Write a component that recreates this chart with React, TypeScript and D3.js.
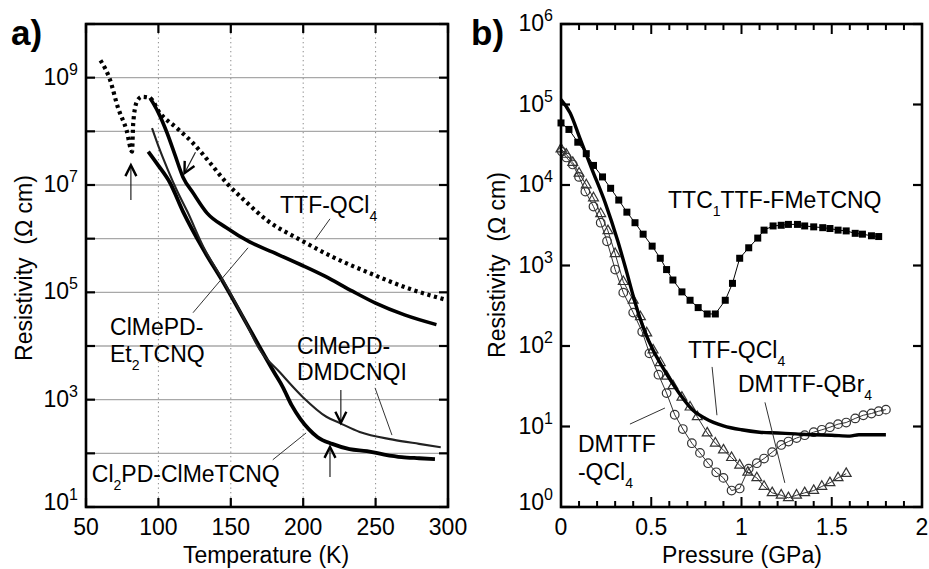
import React from 'react';
import * as d3 from 'd3';

// ---------- Panel a: resistivity vs temperature ----------
const ttfQCl4_T = [60, 66.6, 72, 78, 81.8, 82.6, 85, 88.5, 94, 101, 112.7, 124, 135.6, 147, 160, 175, 198, 220, 244, 276, 299];
const ttfQCl4_R = [2.1e9, 9.1e8, 2.8e8, 1.05e8, 4.2e7, 1.4e8, 3.5e8, 4.4e8, 4.2e8, 2.2e8, 1.15e8, 6.0e7, 2.6e7, 1.1e7, 5.0e6, 2.2e6, 9.5e5, 4.6e5, 2.4e5, 1.1e5, 7.2e4];

const et2_T = [94.2, 99.7, 106, 111.5, 117, 124, 133.6, 147, 163, 179, 198, 215, 234, 250, 270, 292];
const et2_R = [4.2e8, 2.3e8, 9.3e7, 3.6e7, 1.4e7, 7.1e6, 3.0e6, 1.6e6, 8.7e5, 5.6e5, 3.3e5, 2.0e5, 1.05e5, 6.3e4, 3.8e4, 2.5e4];

const dmdcnqi_T = [95.6, 101, 106.6, 112.8, 120, 131, 145, 158, 170, 184, 200, 216, 225, 239, 262, 280, 295];
const dmdcnqi_R = [1.15e8, 4.5e7, 1.9e7, 7.9e6, 3.2e6, 7.1e5, 1.6e5, 3.7e4, 8.5e3, 3.2e3, 1.1e3, 480, 370, 250, 180, 150, 130];

const cl2pd_T = [93, 100, 108, 117, 131, 145, 158, 170, 180, 186, 192, 198, 204, 210, 220, 232, 244, 256, 268, 280, 291];
const cl2pd_R = [4.2e7, 2.3e7, 1.1e7, 3.2e6, 6.3e5, 1.5e5, 3.6e4, 9.5e3, 3.2e3, 1.7e3, 790, 440, 280, 200, 150, 120, 110, 95, 85, 81, 78];

const tempTicks = [50, 100, 150, 200, 250, 300];
const tempGrid = [100, 150, 200, 250];
const resAExps = [1, 2, 3, 4, 5, 6, 7, 8, 9, 10];
const resALabelExps = [1, 3, 5, 7, 9];

// ---------- Panel b: resistivity vs pressure ----------
const ttc1_P = [0, 0.044, 0.093, 0.14, 0.18, 0.23, 0.275, 0.32, 0.365, 0.41, 0.455, 0.505, 0.55, 0.585, 0.62, 0.67, 0.715, 0.76, 0.81, 0.855, 0.91, 0.95, 0.99, 1.04, 1.09, 1.125, 1.175, 1.22, 1.26, 1.31, 1.35, 1.4, 1.45, 1.49, 1.535, 1.58, 1.63, 1.67, 1.72, 1.76];
const ttc1_R = [5.9e4, 4.9e4, 3.4e4, 2.45e4, 1.75e4, 1.26e4, 9100, 6500, 4600, 3400, 2450, 1740, 1230, 890, 660, 470, 370, 300, 250, 250, 370, 600, 1230, 1660, 2190, 2750, 3100, 3160, 3240, 3240, 3100, 3020, 2950, 2880, 2750, 2690, 2510, 2450, 2340, 2290];

const ttfB_P = [0, 0.05, 0.105, 0.17, 0.245, 0.315, 0.36, 0.41, 0.46, 0.51, 0.56, 0.6, 0.66, 0.73, 0.8, 0.9, 1.0, 1.1, 1.2, 1.3, 1.4, 1.5, 1.6, 1.65, 1.7, 1.8];
const ttfB_R = [1.15e5, 7.9e4, 3.8e4, 1.6e4, 6000, 2000, 890, 350, 160, 89, 56, 40, 25, 16, 12.6, 10.2, 9.1, 8.5, 8.3, 8.1, 7.9, 7.8, 7.6, 7.9, 7.9, 7.9];

const dmCl_P = [0.005, 0.03, 0.065, 0.1, 0.135, 0.18, 0.22, 0.255, 0.3, 0.345, 0.4, 0.45, 0.49, 0.54, 0.585, 0.63, 0.675, 0.725, 0.77, 0.815, 0.86, 0.9, 0.945, 0.99, 1.04, 1.085, 1.125, 1.17, 1.22, 1.26, 1.305, 1.35, 1.4, 1.445, 1.49, 1.535, 1.58, 1.63, 1.675, 1.72, 1.76, 1.8];
const dmCl_R = [2.6e4, 2.2e4, 1.8e4, 1.26e4, 8300, 5400, 3400, 2000, 890, 460, 260, 150, 81, 44, 26, 14, 9.3, 6.2, 4.7, 3.5, 2.7, 2.3, 1.6, 1.7, 3.0, 3.5, 4.0, 4.8, 5.9, 6.5, 7.2, 7.8, 8.5, 9.1, 9.8, 10.7, 11.2, 12.6, 13.8, 14.5, 15.5, 16.2];

const dmBr_P = [0, 0.03, 0.065, 0.1, 0.14, 0.18, 0.22, 0.26, 0.3, 0.345, 0.4, 0.44, 0.475, 0.51, 0.55, 0.585, 0.62, 0.67, 0.715, 0.755, 0.81, 0.855, 0.9, 0.945, 0.99, 1.035, 1.085, 1.125, 1.17, 1.22, 1.26, 1.305, 1.35, 1.4, 1.445, 1.49, 1.535, 1.58];
const dmBr_R = [2.8e4, 2.4e4, 1.9e4, 1.4e4, 1.0e4, 6900, 4400, 2700, 1400, 630, 370, 230, 145, 89, 62, 42, 32, 23, 17.4, 13.2, 8.3, 6.2, 5.1, 4.1, 3.3, 2.7, 2.3, 1.8, 1.5, 1.4, 1.3, 1.4, 1.5, 1.6, 1.8, 2.0, 2.3, 2.6];

const pressTicks = [0, 0.5, 1, 1.5, 2];
const pressTickLabels = ['0', '0.5', '1', '1.5', '2'];
const resBExps = [0, 1, 2, 3, 4, 5, 6];

const FONT = "'Liberation Sans', Arial, Helvetica, sans-serif";
const FS = 23;

type Pt = [number, number];
const zip = (a: number[], b: number[]): Pt[] => a.map((v, i) => [v, b[i]]);
const p10 = (e: number) => Math.pow(10, e);

function Arrow({ x1, y1, x2, y2 }: { x1: number; y1: number; x2: number; y2: number }) {
  const dx = x2 - x1, dy = y2 - y1;
  const L = Math.hypot(dx, dy);
  const ux = dx / L, uy = dy / L;
  const px = -uy, py = ux;
  const hl = 11, hw = 5.5;
  const bx = x2 - ux * hl, by = y2 - uy * hl;
  return (
    <g>
      <line x1={x1} y1={y1} x2={x2} y2={y2} stroke="#222" strokeWidth={1.2} />
      <polyline
        points={`${bx + px * hw},${by + py * hw} ${x2},${y2} ${bx - px * hw},${by - py * hw}`}
        fill="none" stroke="#000" strokeWidth={2.4} strokeLinejoin="miter" />
    </g>
  );
}

export default function App() {
  // Panel a scales
  const xa = d3.scaleLinear().domain([50, 300]).range([86, 448]);
  const ya = d3.scaleLog().domain([1e1, 1e10]).range([507, 24]);
  // Panel b scales
  const xb = d3.scaleLinear().domain([0, 2]).range([561, 922]);
  const yb = d3.scaleLog().domain([1, 1e6]).range([507, 24]);

  const lineA = d3.line<Pt>().x(d => xa(d[0])).y(d => ya(d[1])).curve(d3.curveMonotoneX);
  const lineB = d3.line<Pt>().x(d => xb(d[0])).y(d => yb(d[1])).curve(d3.curveMonotoneX);
  const lineBlin = d3.line<Pt>().x(d => xb(d[0])).y(d => yb(d[1]));

  const tri = d3.symbol().type(d3.symbolTriangle).size(42)()!;

  const [a0, a1] = xa.range();
  const [ab, at] = ya.range();
  const [b0, b1] = xb.range();
  const [bb, bt] = yb.range();

  const minorP = d3.range(0, 21).map(i => i / 10);

  const sub = (s: string, fs = 14) => (
    <tspan fontSize={fs} dy={8}>{s}</tspan>
  );

  return (
    <svg width={929} height={569} style={{ position: 'absolute', left: 0, top: 0, background: '#fff' }}
      fontFamily={FONT} fontSize={FS}>
      <rect x={0} y={0} width={929} height={569} fill="#fff" />

      {/* ================= Panel a ================= */}
      <text x={11} y={45} fontSize={35} fontWeight="bold">a)</text>

      {/* grid */}
      {resAExps.filter(e => e > 1 && e < 10).map(e => (
        <line key={'ga' + e} x1={a0} x2={a1} y1={ya(p10(e))} y2={ya(p10(e))} stroke="#a8a8a8" strokeWidth={1.3} />
      ))}
      {tempGrid.map(t => (
        <line key={'gv' + t} x1={xa(t)} x2={xa(t)} y1={at} y2={ab} stroke="#8a8a8a" strokeWidth={1} strokeDasharray="1.3 3.2" />
      ))}

      {/* ticks */}
      {resAExps.map(e => (
        <g key={'ta' + e}>
          <line x1={a0} x2={a0 + 9} y1={ya(p10(e))} y2={ya(p10(e))} stroke="#000" strokeWidth={2.2} />
          <line x1={a1} x2={a1 - 9} y1={ya(p10(e))} y2={ya(p10(e))} stroke="#000" strokeWidth={2.2} />
        </g>
      ))}
      {tempTicks.map(t => (
        <g key={'tx' + t}>
          <line x1={xa(t)} x2={xa(t)} y1={ab} y2={ab - 9} stroke="#000" strokeWidth={2.2} />
          <line x1={xa(t)} x2={xa(t)} y1={at} y2={at + 9} stroke="#000" strokeWidth={2.2} />
          <text x={xa(t)} y={535} textAnchor="middle">{t}</text>
        </g>
      ))}
      {resALabelExps.map(e => (
        <text key={'la' + e} x={a0 - 8} y={ya(p10(e)) + (e === 1 ? 3 : 7)} textAnchor="end">
          10<tspan fontSize={16} dy={-10}>{e}</tspan>
        </text>
      ))}

      {/* curves */}
      <path d={lineA(zip(ttfQCl4_T, ttfQCl4_R))!} fill="none" stroke="#000" strokeWidth={4.2} strokeDasharray="3.2 3.6" />
      <path d={lineA(zip(et2_T, et2_R))!} fill="none" stroke="#000" strokeWidth={3.6} />
      <path d={lineA(zip(cl2pd_T, cl2pd_R))!} fill="none" stroke="#000" strokeWidth={3.8} />
      <path d={lineA(zip(dmdcnqi_T, dmdcnqi_R))!} fill="none" stroke="#222" strokeWidth={2.1} />

      {/* arrows */}
      <Arrow x1={xa(81)} y1={ya(p10(6.72))} x2={xa(81)} y2={ya(p10(7.37))} />
      <Arrow x1={xa(125.6)} y1={ya(p10(7.61))} x2={xa(118)} y2={ya(p10(7.22))} />
      <Arrow x1={xa(226)} y1={ya(p10(3.18))} x2={xa(226)} y2={ya(p10(2.57))} />
      <Arrow x1={xa(218.5)} y1={ya(p10(1.56))} x2={xa(218.5)} y2={ya(p10(2.12))} />

      {/* leaders */}
      <g stroke="#333" strokeWidth={1}>
        <line x1={xa(218.5)} y1={ya(p10(6.37))} x2={xa(208.2)} y2={ya(p10(5.98))} />
        <line x1={xa(123.9)} y1={ya(p10(4.62))} x2={xa(161.9)} y2={ya(p10(5.83))} />
        <line x1={xa(249.6)} y1={ya(p10(3.22))} x2={xa(261.3)} y2={ya(p10(2.34))} />
        <line x1={xa(179)} y1={ya(p10(1.88))} x2={xa(202)} y2={ya(p10(2.38))} />
      </g>

      {/* labels */}
      <text x={xa(184)} y={ya(p10(6.48))}>TTF-QCl{sub('4')}</text>
      <text x={xa(66.6)} y={ya(p10(4.21))}>ClMePD-</text>
      <text x={xa(66.6)} y={ya(p10(3.70))}>Et{sub('2')}<tspan dy={-8}>TCNQ</tspan></text>
      <text x={xa(195.7)} y={ya(p10(3.85))}>ClMePD-</text>
      <text x={xa(195.7)} y={ya(p10(3.37))}>DMDCNQI</text>
      <text x={xa(54)} y={ya(p10(1.47))}>Cl{sub('2')}<tspan dy={-8}>PD-ClMeTCNQ</tspan></text>

      {/* frame */}
      <rect x={a0} y={at} width={a1 - a0} height={ab - at} fill="none" stroke="#000" strokeWidth={2.6} />

      <text x={266} y={563} textAnchor="middle">Temperature (K)</text>
      <text transform={`translate(32,268) rotate(-90)`} textAnchor="middle" style={{ whiteSpace: 'pre' }}>Resistivity  (Ω cm)</text>

      {/* ================= Panel b ================= */}
      <text x={471} y={45} fontSize={35} fontWeight="bold">b)</text>

      {resBExps.map(e => (
        <g key={'tb' + e}>
          <line x1={b0} x2={b0 + 9} y1={yb(p10(e))} y2={yb(p10(e))} stroke="#000" strokeWidth={2.2} />
          <line x1={b1} x2={b1 - 9} y1={yb(p10(e))} y2={yb(p10(e))} stroke="#000" strokeWidth={2.2} />
          <text x={b0 - 8} y={yb(p10(e)) + (e === 0 ? 3 : 7)} textAnchor="end">
            10<tspan fontSize={16} dy={-10}>{e}</tspan>
          </text>
        </g>
      ))}
      {minorP.map((p, i) => {
        const len = i % 5 === 0 ? 10 : 6;
        return (
          <g key={'mp' + i}>
            <line x1={xb(p)} x2={xb(p)} y1={bb} y2={bb - len} stroke="#000" strokeWidth={2} />
            <line x1={xb(p)} x2={xb(p)} y1={bt} y2={bt + len} stroke="#000" strokeWidth={2} />
          </g>
        );
      })}
      {pressTicks.map((p, i) => (
        <text key={'pl' + i} x={xb(p)} y={535} textAnchor="middle">{pressTickLabels[i]}</text>
      ))}

      {/* TTC1TTF-FMeTCNQ squares */}
      <path d={lineBlin(zip(ttc1_P, ttc1_R))!} fill="none" stroke="#000" strokeWidth={1} />
      {zip(ttc1_P, ttc1_R).map((d, i) => (
        <rect key={'sq' + i} x={xb(d[0]) - 3.5} y={yb(d[1]) - 3.5} width={7} height={7} fill="#000" />
      ))}

      {/* DMTTF-QCl4 circles */}
      <path d={lineBlin(zip(dmCl_P, dmCl_R))!} fill="none" stroke="#333" strokeWidth={1} />
      {zip(dmCl_P, dmCl_R).map((d, i) => (
        <circle key={'c' + i} cx={xb(d[0])} cy={yb(d[1])} r={4.3} fill="none" stroke="#333" strokeWidth={1.2} />
      ))}

      {/* DMTTF-QBr4 triangles */}
      <path d={lineBlin(zip(dmBr_P, dmBr_R))!} fill="none" stroke="#333" strokeWidth={1} />
      {zip(dmBr_P, dmBr_R).map((d, i) => (
        <path key={'t' + i} d={tri} transform={`translate(${xb(d[0])},${yb(d[1])})`} fill="none" stroke="#333" strokeWidth={1.2} />
      ))}

      {/* TTF-QCl4 thick */}
      <path d={lineB(zip(ttfB_P, ttfB_R))!} fill="none" stroke="#000" strokeWidth={3.4} />

      {/* leaders */}
      <g stroke="#333" strokeWidth={1}>
        <line x1={xb(0.837)} y1={yb(p10(1.74))} x2={xb(0.864)} y2={yb(p10(1.14))} />
        <line x1={xb(1.13)} y1={yb(p10(1.30))} x2={xb(1.24)} y2={yb(p10(0.30))} />
        <line x1={xb(0.382)} y1={yb(p10(1.03))} x2={xb(0.576)} y2={yb(p10(1.23))} />
      </g>

      <text x={xb(0.593)} y={yb(p10(3.71))}>TTC{sub('1')}<tspan dy={-8}>TTF-FMeTCNQ</tspan></text>
      <text x={xb(0.704)} y={yb(p10(1.85))}>TTF-QCl{sub('4')}</text>
      <text x={xb(0.98)} y={yb(p10(1.43))}>DMTTF-QBr{sub('4')}</text>
      <text x={xb(0.094)} y={yb(p10(0.68))}>DMTTF</text>
      <text x={xb(0.094)} y={yb(p10(0.34))}>-QCl{sub('4')}</text>

      <rect x={b0} y={bt} width={b1 - b0} height={bb - bt} fill="none" stroke="#000" strokeWidth={2.6} />

      <text x={742} y={563} textAnchor="middle">Pressure (GPa)</text>
      <text transform={`translate(505,265) rotate(-90)`} textAnchor="middle" style={{ whiteSpace: 'pre' }}>Resistivity  (Ω cm)</text>
    </svg>
  );
}
